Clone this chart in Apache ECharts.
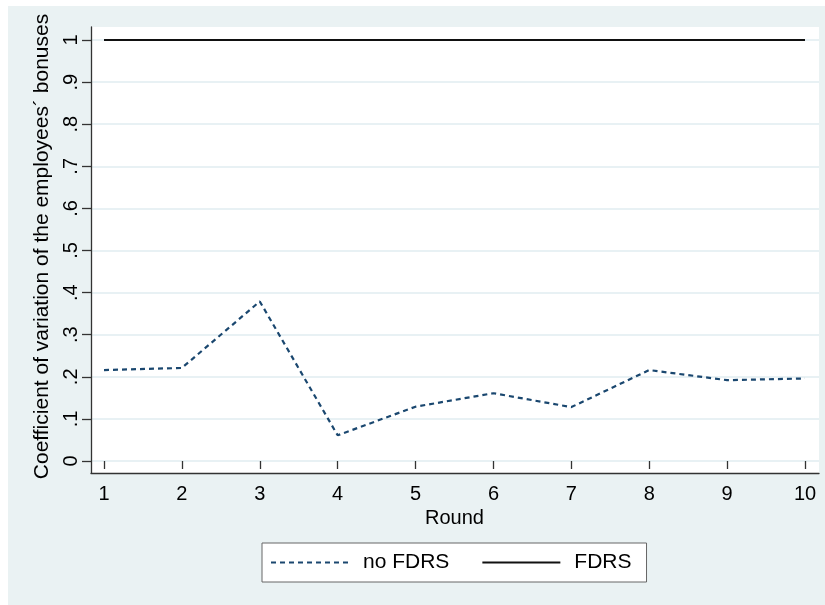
<!DOCTYPE html>
<html>
<head>
<meta charset="utf-8">
<script src="https://cdn.jsdelivr.net/npm/echarts@6/dist/echarts.min.js"></script>
<style>
html,body{margin:0;padding:0;background:#fff;}
#chart{width:825px;height:605px;}
</style>
</head>
<body>
<div id="chart"></div>
<script>
// ---- data ----
const rounds = [1, 2, 3, 4, 5, 6, 7, 8, 9, 10];
const noFDRS = [0.216, 0.221, 0.379, 0.061, 0.129, 0.161, 0.128, 0.216, 0.192, 0.196];
const FDRS = [1, 1, 1, 1, 1, 1, 1, 1, 1, 1];
const yTickLabels = ['0', '.1', '.2', '.3', '.4', '.5', '.6', '.7', '.8', '.9', '1'];
const seriesNames = ['no FDRS', 'FDRS'];
const xTitle = 'Round';
const yTitle = 'Coefficient of variation of the employees\u00B4 bonuses';

const FONT = '"Liberation Sans", Arial, Helvetica, sans-serif';
const chart = echarts.init(document.getElementById('chart'), null, {renderer: 'canvas'});

const option = {
  animation: false,
  backgroundColor: '#ffffff',
  graphic: [{
    type: 'rect', z: -100, silent: true,
    shape: {x: 8, y: 6, width: 817, height: 599},
    style: {fill: '#EAF2F3'}
  }],
  grid: [
    // data grid (1..10, 0..1)
    {left: 104, right: 20, top: 40, bottom: 144},
    // y-axis ticks / gridlines grid
    {left: 91, right: 6, top: 40, bottom: 144},
    // plot frame
    {left: 91, right: 6, top: 27, bottom: 132, show: true, backgroundColor: '#ffffff', borderWidth: 0}
  ],
  xAxis: [
    {
      gridIndex: 0, type: 'value', min: 1, max: 10, interval: 1, offset: 12,
      axisLine: {show: false},
      axisTick: {show: true, length: 8, lineStyle: {color: '#333', width: 1.3}},
      axisLabel: {show: true, margin: 11, color: '#000', fontSize: 20, fontFamily: FONT,
        formatter: v => String(rounds[Math.round(v) - 1])},
      splitLine: {show: false},
      name: xTitle, nameLocation: 'middle', nameGap: 35,
      nameTextStyle: {color: '#000', fontSize: 20, fontFamily: FONT}
    },
    {gridIndex: 1, type: 'value', min: 0, max: 1, show: false},
    {
      gridIndex: 2, type: 'value', min: 0, max: 1,
      axisLine: {show: true, lineStyle: {color: '#333', width: 1.3}},
      axisTick: {show: false}, axisLabel: {show: false}, splitLine: {show: false}
    }
  ],
  yAxis: [
    {gridIndex: 0, type: 'value', min: 0, max: 1, show: false},
    {
      gridIndex: 1, type: 'value', min: 0, max: 1, interval: 0.1,
      axisLine: {show: false},
      axisTick: {show: true, length: 9, lineStyle: {color: '#333', width: 1.3}},
      axisLabel: {show: true, rotate: 90, margin: 10, color: '#000', fontSize: 20, fontFamily: FONT,
        formatter: v => yTickLabels[Math.round(v * 10)]},
      splitLine: {show: true, lineStyle: {color: '#E1EDF0', width: 1.5}},
      name: yTitle, nameLocation: 'middle', nameGap: 37,
      nameTextStyle: {color: '#000', fontSize: 21, fontFamily: FONT, padding: [0, 0, 0, 8]}
    },
    {
      gridIndex: 2, type: 'value', min: 0, max: 1,
      axisLine: {show: true, lineStyle: {color: '#333', width: 1.3}},
      axisTick: {show: false}, axisLabel: {show: false}, splitLine: {show: false}
    }
  ],
  legend: {
    left: 262, top: 543,
    selectedMode: false,
    backgroundColor: '#ffffff',
    borderColor: '#666', borderWidth: 1,
    padding: [9, 15, 9, 8],
    itemWidth: 78, itemHeight: 14, itemGap: 32,
    itemStyle: {opacity: 0},
    textStyle: {color: '#000', fontSize: 21, fontFamily: FONT, padding: [0, 0, 0, 9]},
    data: seriesNames
  },
  series: [
    {
      name: seriesNames[0], type: 'line', xAxisIndex: 0, yAxisIndex: 0,
      symbol: 'none', z: 5,
      lineStyle: {color: '#1A476F', width: 2.2, type: [5, 4]},
      itemStyle: {color: '#1A476F'},
      data: rounds.map((r, i) => [r, noFDRS[i]])
    },
    {
      name: seriesNames[1], type: 'line', xAxisIndex: 0, yAxisIndex: 0,
      symbol: 'none', z: 5,
      lineStyle: {color: '#111', width: 2, type: 'solid'},
      itemStyle: {color: '#111'},
      data: rounds.map((r, i) => [r, FDRS[i]])
    }
  ]
};
chart.setOption(option);
</script>
</body>
</html>
